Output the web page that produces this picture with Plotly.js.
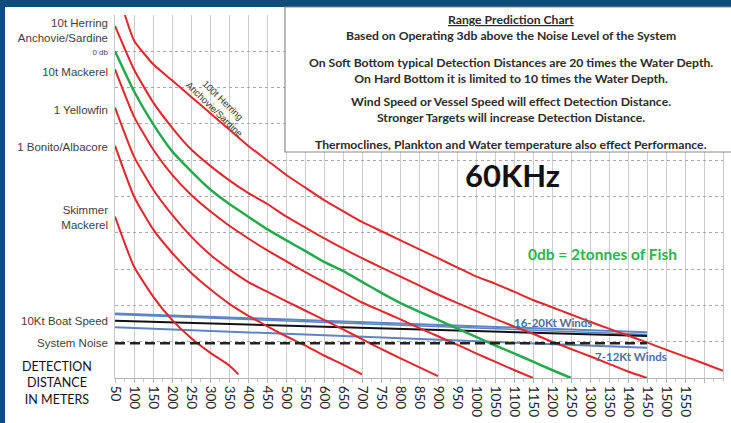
<!DOCTYPE html>
<html><head><meta charset="utf-8">
<script src="https://cdn.plot.ly/plotly-3.0.1.min.js"></script>
<style>html,body{margin:0;padding:0;background:#0e4c7a;}#chart{width:731px;height:423px;}</style>
</head><body><div id="chart"></div>
<script>
// ---- data (detection distance in metres vs. signal level in grid units) ----
const xTicks = [50,100,150,200,250,300,350,400,450,500,550,600,650,700,750,800,850,900,950,1000,1050,1100,1150,1200,1250,1300,1350,1400,1450,1500,1550];

const herring100X = [76,100,150,200,250,300,350,400,450,500,550,600,650,700,750,800,850,900,950,1000,1050,1100,1150,1200,1250,1300,1350,1400,1450,1500,1550,1600,1650];
const herring100Y = [10,9.3,8.65,8.2,7.75,7.3,6.85,6.4,6.0,5.6,5.25,4.9,4.6,4.3,4.05,3.8,3.55,3.3,3.05,2.8,2.6,2.38,2.15,1.95,1.75,1.55,1.36,1.17,0.98,0.78,0.59,0.4,0.2];

const herring10X = [50,100,150,200,250,300,350,400,450,500,550,600,650,700,750,800,850,900,950,1000,1050,1100,1150,1200,1250,1300,1350,1400,1450];
const herring10Y = [9.7,8.5,7.6,6.9,6.3,5.85,5.45,5.1,4.8,4.45,4.15,3.85,3.57,3.3,3.05,2.8,2.55,2.3,2.07,1.85,1.63,1.42,1.22,1.0,0.8,0.6,0.39,0.18,0.0];

const zeroDbX = [50,100,150,200,250,300,350,400,450,500,550,600,650,700,750,800,850,900,950,1000,1050,1100,1150,1200,1250];
const zeroDbY = [9.0,7.9,7.0,6.25,5.7,5.2,4.8,4.45,4.1,3.8,3.5,3.2,2.95,2.65,2.35,2.07,1.83,1.6,1.37,1.13,0.9,0.68,0.45,0.22,0.0];

const mackerel10X = [50,100,150,200,250,300,350,400,450,500,550,600,650,700,750,800,850,900,950,1000,1050,1100,1150];
const mackerel10Y = [8.5,7.2,6.3,5.6,5.05,4.6,4.2,3.85,3.52,3.22,2.92,2.64,2.36,2.08,1.85,1.62,1.38,1.15,0.92,0.68,0.45,0.22,0.0];

const yellowfinX = [50,100,150,200,250,300,350,400,450,500,550,600,650,700,750,800,850,900];
const yellowfinY = [7.45,6.1,5.2,4.5,3.9,3.4,3.0,2.65,2.38,2.12,1.86,1.6,1.34,1.07,0.8,0.55,0.3,0.05];

const bonitoX = [50,100,150,200,250,300,350,400,450,500,550,600,650,700];
const bonitoY = [6.4,5.0,4.1,3.45,2.9,2.45,2.05,1.72,1.43,1.15,0.9,0.62,0.37,0.1];

const skimmerX = [50,100,150,200,250,300,350,375];
const skimmerY = [4.45,3.07,2.25,1.6,1.1,0.7,0.35,0.1];

const boatSpeedX = [50,1450];
const boatSpeedY = [1.58,1.16];
const wind1620X = [50,1450];
const wind1620Y = [1.78,1.26];
const wind1620bX = [50,1450];
const wind1620bY = [1.75,1.2];
const wind712X = [50,1450];
const wind712Y = [1.4,0.83];
const noiseX = [50,1450];
const noiseY = [0.96,0.96];

const yLabels = ['10t Herring<br>Anchovie/Sardine','<span style="font-size:8px">0 db</span>','10t Mackerel','1 Yellowfin','1 Bonito/Albacore','Skimmer<br>Mackerel','10Kt Boat Speed','System Noise'];
const yLabelVals = [herring10Y[0]-0.12, zeroDbY[0], mackerel10Y[0]-0.07, yellowfinY[0]-0.07, bonitoY[0]-0.04, skimmerY[0]-0.04, boatSpeedY[0], noiseY[0]];

// ---- drawing ----
const RED = '#e3262b', GREEN = '#25a94d', BLUE = '#5f84c2';
function line(x, y, color, width, extra) {
  return Object.assign({x: x, y: y, type: 'scatter', mode: 'lines', hoverinfo: 'skip',
    line: {color: color, width: width, shape: 'spline', smoothing: 0.5}}, extra || {});
}
const traces = [
  line(wind1620X, wind1620Y, BLUE, 2),
  line(wind1620bX, wind1620bY, BLUE, 1.5),
  line(wind712X, wind712Y, BLUE, 2),
  line(boatSpeedX, boatSpeedY, '#111', 2),
  line(noiseX, noiseY, '#222', 2.5, {line: {color: '#222', width: 2.5, dash: '10px,5px'}, yaxis: 'y2'}),
  line(skimmerX, skimmerY, RED, 2),
  line(bonitoX, bonitoY, RED, 2),
  line(yellowfinX, yellowfinY, RED, 2),
  line(mackerel10X, mackerel10Y, RED, 2),
  line(zeroDbX, zeroDbY, GREEN, 2.5),
  line(herring10X, herring10Y, RED, 2),
  line(herring100X, herring100Y, RED, 2)
];

const PX = x => (x - 115) / 608;
const PY = y => (378 - y) / 363;
const boxFont = {family: 'Lato, "Open Sans", sans-serif', size: 12.2, color: '#2b2b2b'};
function ann(text, x, y, font, extra) {
  return Object.assign({text: text, x: PX(x), y: PY(y), xref: 'paper', yref: 'paper',
    showarrow: false, xanchor: 'center', yanchor: 'middle', font: font}, extra || {});
}
const boxLines = [
  ['<u>Range Prediction Chart</u>', 19],
  ['Based on Operating 3db above the Noise Level of the System', 35],
  ['On Soft Bottom typical Detection Distances are 20 times the Water Depth.<br>On Hard Bottom it is limited to 10 times the Water Depth.', 70],
  ['Wind Speed or Vessel Speed will effect Detection Distance.<br>Stronger Targets will increase Detection Distance.', 110],
  ['Thermoclines, Plankton and Water temperature also effect Performance.', 144]
];
const annotations = boxLines.map(l => ann('<b>' + l[0].replace('<br>', '</b><br><b>') + '</b>', 511, l[1], boxFont));
annotations.push(ann('<b>60KHz</b>', 512, 175, {family: 'Lato, sans-serif', size: 31, color: '#111'}));
annotations.push(ann('<b>0db = 2tonnes of Fish</b>', 602, 254, {family: 'Lato, sans-serif', size: 15.5, color: '#2db34f'}));
annotations.push(ann('<b>16-20Kt Winds</b>', 553, 322, {family: 'Lato, sans-serif', size: 11.5, color: '#4e6ea6'}));
annotations.push(ann('<b>7-12Kt Winds</b>', 631, 356, {family: 'Lato, sans-serif', size: 11.5, color: '#4e6ea6'}));
annotations.push(ann('100t Herring<br>Anchovie/Sardine', 219, 104, {family: '"Liberation Sans", Arial, sans-serif', size: 9.5, color: '#333'}, {textangle: 44}));
annotations.push(ann('DETECTION<br>DISTANCE<br>IN METERS', 57, 383, {family: 'Lato, sans-serif', size: 12.5, color: '#111'}));

const layout = {
  width: 731, height: 423,
  margin: {l: 115, r: 8, t: 15, b: 45, pad: 0},
  paper_bgcolor: '#0e4c7a', plot_bgcolor: '#ffffff',
  showlegend: false,
  xaxis: {
    range: [50, 1650], tickmode: 'array',
    tickvals: xTicks.concat([1600]), ticktext: xTicks.map(String).concat(['']),
    tickangle: 90, tickfont: {family: 'Lato, sans-serif', size: 13.5, color: '#222'},
    showgrid: true, gridcolor: '#cdcdcd', gridwidth: 1,
    showline: true, linecolor: '#b5b5b5', linewidth: 1,
    ticks: 'outside', ticklen: 4, tickcolor: '#b5b5b5',
    minor: {tickmode: 'linear', tick0: 50, dtick: 25, ticks: 'outside', ticklen: 3, tickcolor: '#c5c5c5', showgrid: false},
    zeroline: false, fixedrange: true
  },
  yaxis: {
    range: [0, 10], tickmode: 'linear', tick0: 0, dtick: 1,
    showticklabels: false, ticks: '',
    showgrid: true, gridcolor: '#a8a8a8', griddash: 'dot', gridwidth: 1,
    showline: true, mirror: true, linecolor: '#c8c8c8',
    zeroline: false, fixedrange: true
  },
  yaxis2: {
    overlaying: 'y', side: 'left', range: [0, 10],
    tickmode: 'array', tickvals: yLabelVals, ticktext: yLabels,
    tickfont: {family: '"Liberation Sans", Arial, sans-serif', size: 11.5, color: '#3f3f3f'},
    ticks: '', ticklabelstandoff: 6, showgrid: false, zeroline: false, showline: false, fixedrange: true
  },
  shapes: [
    {type: 'rect', xref: 'paper', yref: 'paper', x0: PX(5), x1: PX(745), y0: PY(440), y1: PY(7),
     fillcolor: '#ffffff', line: {width: 0}, layer: 'below'},
    {type: 'rect', xref: 'paper', yref: 'paper', x0: PX(285), x1: PX(745), y0: PY(152), y1: PY(7),
     fillcolor: '#ffffff', line: {color: '#8a8a8a', width: 1.2}, layer: 'above'}
  ],
  annotations: annotations
};
Plotly.newPlot('chart', traces, layout, {displayModeBar: false, staticPlot: true});
</script></body></html>
